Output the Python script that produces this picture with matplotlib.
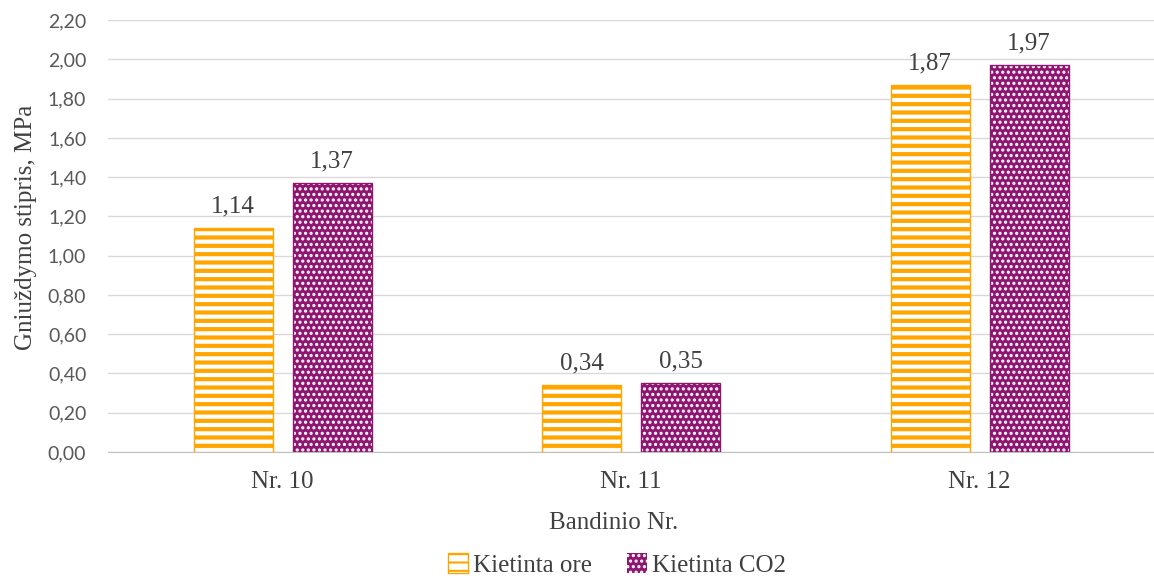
import numpy as np
import matplotlib.pyplot as plt

categories = ['Nr. 10', 'Nr. 11', 'Nr. 12']
ore = [1.14, 0.34, 1.87]
co2 = [1.37, 0.35, 1.97]
series_names = ['Kietinta ore', 'Kietinta CO2']
labels_ore = ['1,14', '0,34', '1,87']
labels_co2 = ['1,37', '0,35', '1,97']

ORANGE = '#FFA500'
PURPLE = '#8E1670'
SERIF = 'Liberation Serif'
SANS = 'Lato'
TXT = '#404040'

fig = plt.figure(figsize=(11.54, 5.78), dpi=100)
ax = fig.add_axes([0.094, 0.218, 0.906, 0.747])

x = np.arange(len(categories))
w = 0.226
off = 0.142

plt.rcParams['hatch.linewidth'] = 3.0
b1 = ax.bar(x - off, ore, w, color='white', edgecolor=ORANGE, hatch='--',
            linewidth=1.0, zorder=3, label=series_names[0])
plt.rcParams['hatch.linewidth'] = 1.5
b2 = ax.bar(x + off, co2, w, color=PURPLE, edgecolor='white', hatch='...',
            linewidth=0, zorder=3, label=series_names[1])
ax.bar(x + off, co2, w, fill=False, edgecolor=PURPLE, linewidth=1.0, zorder=4)

# etiketter over stolpene
for xi, v, t in zip(x - off, ore, labels_ore):
    ax.text(xi, v + 0.055, t, ha='center', va='bottom', fontsize=18,
            family=SERIF, color=TXT)
for xi, v, t in zip(x + off, co2, labels_co2):
    ax.text(xi, v + 0.055, t, ha='center', va='bottom', fontsize=18,
            family=SERIF, color=TXT)

ax.set_xlim(-0.5, 2.5)
ax.set_ylim(0, 2.2)
yt = np.arange(0, 2.21, 0.2)
ax.set_yticks(yt)
ax.set_yticklabels([f'{v:.2f}'.replace('.', ',') for v in yt],
                   family=SANS, fontsize=14, color='#595959')
ax.set_xticks(x)
ax.set_xticklabels(categories, family=SERIF, fontsize=18, color=TXT)
ax.tick_params(axis='y', length=0, pad=16)
ax.tick_params(axis='x', length=0, pad=14)
ax.grid(axis='y', color='#D9D9D9', linewidth=1, zorder=0)
for s in ['top', 'right', 'left']:
    ax.spines[s].set_visible(False)
ax.spines['bottom'].set_color('#BFBFBF')

ax.set_ylabel('Gniuždymo stipris, MPa', family=SERIF, fontsize=18, color=TXT)
ax.yaxis.set_label_coords(-0.068, 0.52)
ax.set_xlabel('Bandinio Nr.', family=SERIF, fontsize=18, color=TXT)
ax.xaxis.set_label_coords(0.483, -0.14)

ax.legend(handles=[b1, b2], loc='center', bbox_to_anchor=(0.486, -0.262),
          ncol=2, frameon=False, prop={'family': SERIF, 'size': 18},
          handlelength=0.8, handleheight=0.8, handletextpad=0.2,
          columnspacing=1.4, labelcolor=TXT)

fig.savefig('out.png', dpi=100)
